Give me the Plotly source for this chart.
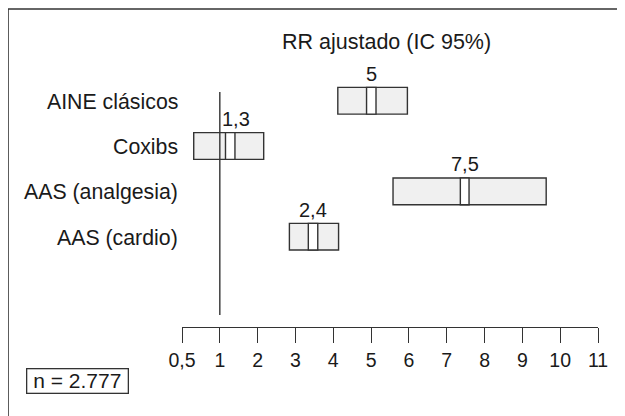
import plotly.graph_objects as go

# ---- data (positions on the drawn, evenly spaced axis) ----
categories = ["AINE clásicos", "Coxibs", "AAS (analgesia)", "AAS (cardio)"]
rr_labels = ["5", "1,3", "7,5", "2,4"]
ci_low = [4.12, 0.31, 5.58, 2.84]
ci_high = [5.96, 2.16, 9.63, 4.14]
mid_low = [4.88, 1.15, 7.36, 3.34]
mid_high = [5.13, 1.40, 7.59, 3.59]
tick_vals = [0, 1, 2, 3, 4, 5, 6, 7, 8, 9, 10, 11]
tick_text = ["0,5", "1", "2", "3", "4", "5", "6", "7", "8", "9", "10", "11"]
ref_value = 1
title_text = "RR ajustado (IC 95%)"
n_text = "n = 2.777"

FONT = "Liberation Sans, Arial, Helvetica, sans-serif"
INK = "#333333"
TXT = "#1a1a1a"
OFF = 8  # page body margin of the html page

W, H = 625, 416
L, R, T, B = 174, 35, 52, 97
pw, ph = W - L - R, H - T - B

def px_x(x):
    return (x - OFF - L) / pw

def px_y(y):
    return (H - B - (y - OFF)) / ph

rows = list(range(len(categories)))

fig = go.Figure()
fig.add_trace(go.Bar(
    y=rows, base=ci_low, x=[h - l for h, l in zip(ci_high, ci_low)],
    orientation="h", width=0.59,
    marker=dict(color="#f0f0f0", line=dict(color=INK, width=1.4)),
    hoverinfo="skip", showlegend=False,
))
fig.add_trace(go.Bar(
    y=rows, base=mid_low, x=[h - l for h, l in zip(mid_high, mid_low)],
    orientation="h", width=0.59,
    marker=dict(color="#ffffff", line=dict(color=INK, width=1.4)),
    hoverinfo="skip", showlegend=False,
))

label_xshift = {"1,3": 6}

annotations = []
for i, (cat, lab, ml, mh) in enumerate(zip(categories, rr_labels, mid_low, mid_high)):
    annotations.append(dict(
        x=0, xref="paper", y=i, yref="y", text=cat, showarrow=False,
        xanchor="right", yanchor="middle", xshift=-2, yshift=-1,
        font=dict(family=FONT, size=21.3, color=TXT)))
    annotations.append(dict(
        x=(ml + mh) / 2, xref="x", y=i, yref="y", text=lab, showarrow=False,
        xanchor="center", yanchor="middle", yshift=27,
        xshift=label_xshift.get(lab, 0),
        font=dict(family=FONT, size=20, color=TXT)))

annotations.append(dict(
    x=px_x(386.7), xref="paper", y=px_y(42.5), yref="paper", text=title_text,
    showarrow=False, xanchor="center", yanchor="middle",
    font=dict(family=FONT, size=21.5, color=TXT)))
annotations.append(dict(
    x=px_x(77.5), xref="paper", y=px_y(381.3), yref="paper", text=n_text,
    showarrow=False, xanchor="center", yanchor="middle",
    width=98, height=21, borderpad=1, bordercolor=INK, borderwidth=1.3,
    font=dict(family=FONT, size=21, color=TXT)))

shapes = [
    dict(type="line", xref="x", yref="y", x0=ref_value, x1=ref_value,
         y0=-0.19, y1=4.73, line=dict(color=INK, width=1.4)),
    dict(type="line", xref="paper", yref="paper", x0=px_x(8), x1=px_x(640),
         y0=px_y(9), y1=px_y(9), line=dict(color=INK, width=1.6)),
    dict(type="line", xref="paper", yref="paper", x0=px_x(8), x1=px_x(8),
         y0=px_y(9), y1=px_y(430), line=dict(color=INK, width=1.6)),
]

fig.update_layout(
    width=W, height=H, margin=dict(l=L, r=R, t=T, b=B, pad=0),
    paper_bgcolor="white", plot_bgcolor="white", barmode="overlay",
    annotations=annotations, shapes=shapes,
    font=dict(family=FONT, color=TXT),
    xaxis=dict(range=[0, 11], tickvals=tick_vals, ticktext=tick_text,
               showline=True, linecolor=INK, linewidth=1.4,
               ticks="outside", ticklen=15, tickwidth=1.4, tickcolor=INK,
               showgrid=False, zeroline=False, fixedrange=True,
               tickfont=dict(family=FONT, size=19.5, color=TXT)),
    yaxis=dict(range=[4.992, -0.898], showticklabels=False, showgrid=False,
               zeroline=False, showline=False, ticks="", fixedrange=True),
)

fig.write_html("out.html")
